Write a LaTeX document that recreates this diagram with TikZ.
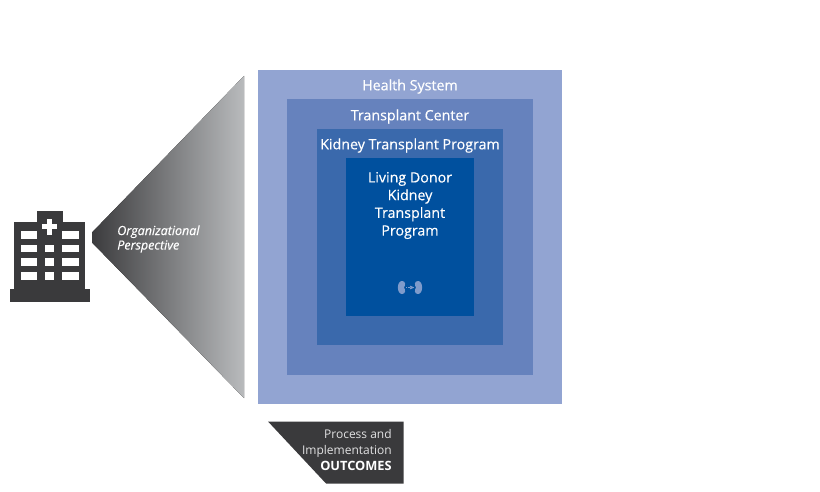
\documentclass[tikz,border=0pt]{standalone}
\usepackage{tikz}
\usepackage{fontspec}
\setmainfont{Open Sans}
\newfontfamily\semifont{Open Sans}[FakeBold=0.35]
\usetikzlibrary{arrows,positioning}

\definecolor{boxA}{HTML}{92A4D2}
\definecolor{boxB}{HTML}{6682BD}
\definecolor{boxC}{HTML}{3A69AC}
\definecolor{boxD}{HTML}{00509E}
\definecolor{slate}{HTML}{3A3A3C}
\definecolor{fade}{HTML}{BCBEC0}
\definecolor{kidney}{HTML}{7F9BCB}

\begin{document}
\begin{tikzpicture}[x=1pt,y=-1pt,>=stealth',semithick]
  \tikzstyle{level}=[rectangle,draw=none,inner sep=0pt]
  \tikzstyle{title}=[text=white,font=\semifont\fontsize{14.25}{17.7}\selectfont,align=center,inner sep=0pt]
  \tikzstyle{dark}=[fill=slate,draw=none]
  \tikzstyle{window}=[fill=white,draw=none]

  \useasboundingbox (0,0) rectangle (820,492);

  % nested boxes
  \node[level,fill=boxA,minimum width=304pt,minimum height=334pt] (H) at (410,237) {};
  \node[level,fill=boxB,minimum width=246pt,minimum height=276pt] (T) at (410,237) {};
  \node[level,fill=boxC,minimum width=186pt,minimum height=216pt] (K) at (410,237) {};
  \node[level,fill=boxD,minimum width=128pt,minimum height=158pt] (L) at (410,237) {};

  \node[title,below=9.5pt of H.north] (hlabel) {Health System};
  \node[title,below=10.5pt of T.north] (tlabel) {Transplant Center};
  \node[title,below=9.5pt of K.north] (klabel) {Kidney Transplant Program};
  \node[title,below=14pt of L.north] (llabel) {Living Donor\\Kidney\\Transplant\\Program};

  % funnel
  \begin{scope}
    \clip (92.5,232) -- (244,76) -- (244,398) -- (92.5,243) -- cycle;
    \fill[left color=slate,right color=fade] (90,70) rectangle (248,404);
  \end{scope}
  \node[text=white,font=\semifont\fontsize{12.5}{14.5}\selectfont\itshape,align=left,anchor=west,inner sep=0pt]
    (perspective) at (117,239) {Organizational\\Perspective};

  % building
  \fill[dark] (37,211) rectangle (62.5,222);
  \fill[dark] (14,222) rectangle (85,289);
  \fill[dark] (9.5,289) rectangle (90,302);
  \fill[window] (47,219) rectangle (52,235);
  \fill[window] (41.5,224.5) rectangle (57,229.5);
  \foreach \y in {231,244.5,258,272}
  {
    \fill[window] (20.5,\y) rectangle +(16.5,7.5);
    \fill[window] (62,\y) rectangle +(16.5,7.5);
  }
  \foreach \y in {244.5,258,272}
    \fill[window] (45,\y) rectangle +(9,7.5);

  % kidneys
  \fill[kidney] (402,281) .. controls (396.5,281) and (396.5,294) .. (402,294)
    .. controls (406,294) and (405.5,289.5) .. (404,287.5)
    .. controls (405.5,285.5) and (406,281) .. (402,281) -- cycle;
  \fill[kidney] (418,281) .. controls (423.5,281) and (423.5,294) .. (418,294)
    .. controls (414,294) and (414.5,289.5) .. (416,287.5)
    .. controls (414.5,285.5) and (414,281) .. (418,281) -- cycle;
  \coordinate (kfrom) at (406,287.5);
  \coordinate (kto) at (414,287.5);
  \draw[->,kidney,densely dotted,line width=0.6pt] (kfrom) -- (kto);

  % outcomes tab
  \fill[dark] (268,421.5) -- (403.5,421.5) -- (403.5,483.5) -- (326,483.5) -- cycle;
  \node[text=white!85!slate,font=\fontsize{12}{16}\selectfont,align=right,anchor=north east,inner sep=0pt]
    (outcomes) at (392,429.5) {Process and\\Implementation\\\textcolor{white}{\fontsize{12.8}{16.5}\selectfont\textbf{OUTCOMES}}};
\end{tikzpicture}
\end{document}
